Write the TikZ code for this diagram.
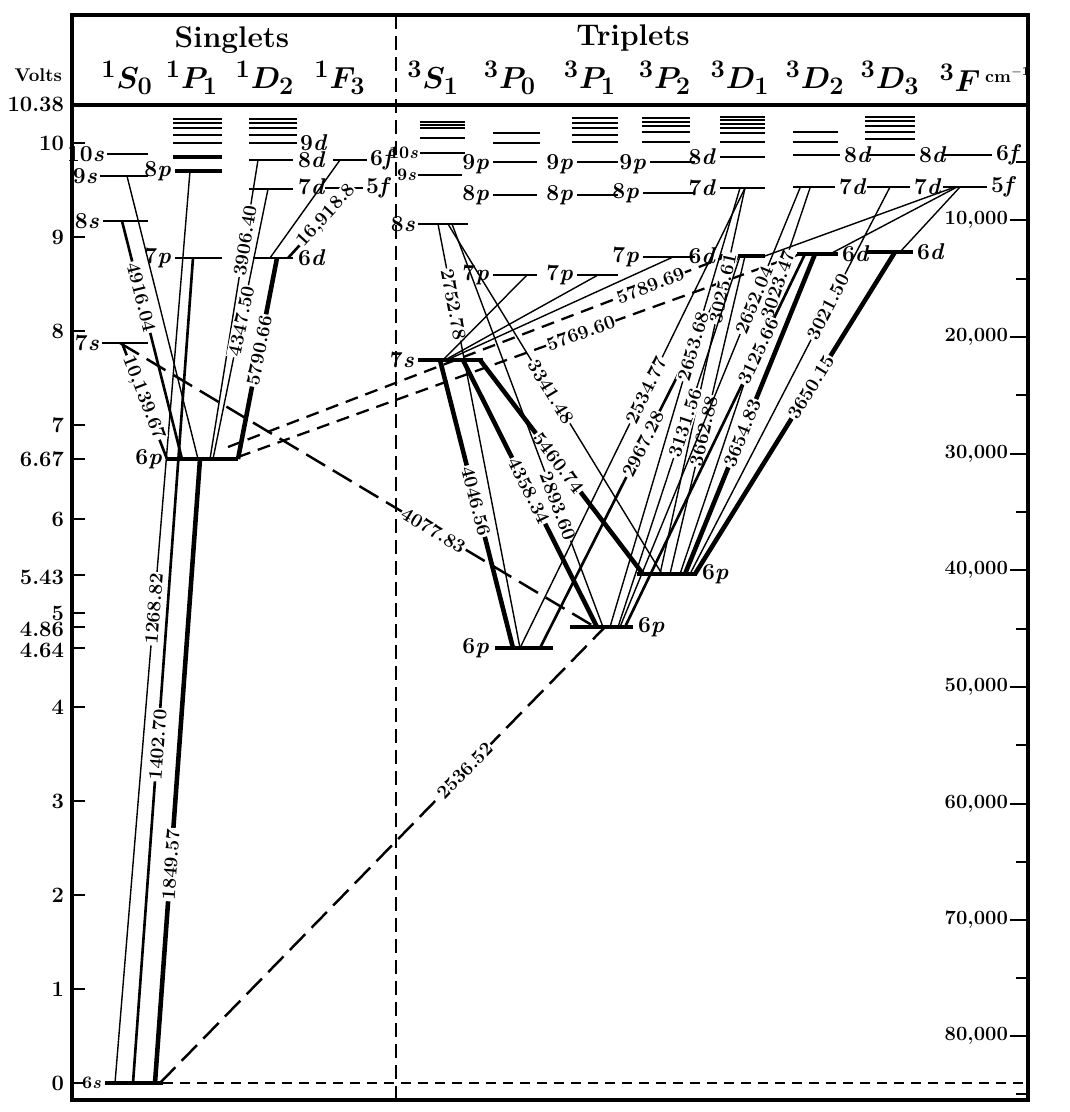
\documentclass[tikz,border=0pt]{standalone}
\usepackage{amsmath, amssymb}
\usepackage{bm}
\usepackage{tikz}
\usetikzlibrary{positioning}

\newcommand{\orb}[2]{#1\textit{#2}}

\begin{document}
\begin{tikzpicture}[
      x=0.02cm, y=-0.02cm,
      frame_line/.style={line width=2.4pt},
      tick_line/.style={line width=1.4pt},
      divider/.style={line width=1.2pt, dash pattern=on 2.8mm off 1.4mm},
      level_line/.style={line width=1.3pt},
      level_thick/.style={line width=2.8pt},
      tr_thin/.style={line width=0.8pt},
      tr_med/.style={line width=1.5pt},
      tr_thick/.style={line width=2.6pt},
      tr_dash/.style={line width=1.3pt, dash pattern=on 2.6mm off 1.6mm},
      tr_long/.style={line width=1.4pt, dash pattern=on 4.4mm off 1.8mm},
      wl/.style={sloped, fill=white, inner sep=0.6pt, font=\fontsize{11}{11}\selectfont\bfseries},
      lvl_lbl/.style={inner sep=1pt, font=\fontsize{13}{13}\selectfont\bfseries},
      axis_lbl/.style={anchor=east, inner sep=1pt, font=\fontsize{12.5}{12.5}\selectfont\bfseries},
      head_lbl/.style={font=\fontsize{17}{17}\selectfont\bfseries},
      term/.style={font=\fontsize{19}{19}\selectfont\boldmath}
    ]
      \useasboundingbox (0,0) rectangle (1070,1112);

      % frame, header, divider
      \draw[frame_line] (72,15) rectangle (1028,1100);
      \draw[frame_line] (72,105) -- (1028,105);
      \draw[divider] (396,15) -- (396,1100);
      \node[head_lbl] (sing) at (232,40) {Singlets};
      \node[head_lbl] (trip) at (633,38) {Triplets};
      \node[term] (hS0) at (127,78) {${}^1S_0$};
      \node[term] (hP1) at (192,78) {${}^1P_1$};
      \node[term] (hD2) at (265,78) {${}^1D_2$};
      \node[term] (hF3) at (340,78) {${}^1F_3$};
      \node[term] (tS1) at (433,78) {${}^3S_1$};
      \node[term] (tP0) at (510,78) {${}^3P_0$};
      \node[term] (tP1) at (590,78) {${}^3P_1$};
      \node[term] (tP2) at (665,78) {${}^3P_2$};
      \node[term] (tD1) at (740,78) {${}^3D_1$};
      \node[term] (tD2) at (815,78) {${}^3D_2$};
      \node[term] (tD3) at (890,78) {${}^3D_3$};
      \node[term] (tF) at (960,78) {${}^3F$};
      \node[font=\fontsize{10}{10}\selectfont\bfseries] (cmu) at (1008,75) {cm$^{\mathbf{-1}}$};

      % volts axis
      \node[axis_lbl, font=\fontsize{10.5}{10.5}\selectfont\bfseries] (volts) at (64,75) {Volts};
      \node[axis_lbl] (v1038) at (66,104) {10.38};
      \foreach \v in {0,...,10} {
        \draw[tick_line] (72,{1083-94*\v}) -- (85,{1083-94*\v});
        \node[axis_lbl] (v\v) at (66,{1083-94*\v}) {\v};
      }
      \foreach \yy/\vv/\ly in {459/6.67/459, 575/5.43/577, 627/4.86/629, 648/4.64/650} {
        \draw[tick_line] (72,\yy) -- (85,\yy);
        \node[axis_lbl] (vx\yy) at (66,\ly) {\vv};
      }

      % wave number axis
      \foreach \c/\yy in {10/220, 20/337, 30/454, 40/570, 50/687, 60/804, 70/920, 80/1036} {
        \draw[tick_line] (1010,\yy) -- (1028,\yy);
        \node[axis_lbl, font=\fontsize{11.5}{11.5}\selectfont\bfseries] (k\c) at (1010,\yy) {\c,000};
      }
      \foreach \yy in {162,279,395,512,629,745,862,978,1094}
        \draw[tick_line] (1016,\yy) -- (1028,\yy);
      \draw[line width=1pt, dash pattern=on 2mm off 1.4mm] (163,1083) -- (1028,1083);

      % singlet levels
      \draw[level_thick] (105,1083) -- (163,1083);
      \draw[level_line] (102,343) -- (148,343);
      \draw[level_line] (103,221) -- (148,221);
      \draw[level_line] (100,176) -- (148,176);
      \draw[level_line] (107,154) -- (148,154);
      \node[lvl_lbl, anchor=east, font=\fontsize{10}{10}\selectfont\bfseries] (s6s) at (103,1083) {\orb{6}{s}};
      \node[lvl_lbl, anchor=east] (s7s) at (101,343) {\orb{7}{s}};
      \node[lvl_lbl, anchor=east] (s8s) at (101,221) {\orb{8}{s}};
      \node[lvl_lbl, anchor=east] (s9s) at (99,176) {\orb{9}{s}};
      \node[lvl_lbl, anchor=east] (s10s) at (106,154) {\orb{10}{s}};

      \draw[level_thick] (167,459) -- (238,459);
      \draw[level_line] (175,258) -- (222,258);
      \draw[level_thick] (175,171) -- (222,171);
      \draw[level_thick] (173,157) -- (222,157);
      \foreach \yy in {119,123,128,135,143}
        \draw[level_line] (173,\yy) -- (222,\yy);
      \node[lvl_lbl, anchor=east] (s6p) at (164,459) {\orb{6}{p}};
      \node[lvl_lbl, anchor=east] (s7p) at (173,258) {\orb{7}{p}};
      \node[lvl_lbl, anchor=east] (s8p) at (173,171) {\orb{8}{p}};

      \draw[level_line] (253,258) -- (293,258);
      \draw[level_line] (249,189) -- (293,189);
      \draw[level_line] (249,160) -- (293,160);
      \foreach \yy in {119,123,128,135,143}
        \draw[level_line] (249,\yy) -- (297,\yy);
      \node[lvl_lbl, anchor=west] (s7d) at (296,187) {\orb{7}{d}};
      \node[lvl_lbl, anchor=west] (s8d) at (296,160) {\orb{8}{d}};
      \node[lvl_lbl, anchor=west] (s9d) at (298,143) {\orb{9}{d}};

      \draw[level_line] (333,160) -- (367,160);
      \draw[level_line] (325,188) -- (363,188);
      \node[lvl_lbl, anchor=west] (s6f) at (368,160) {\orb{6}{f}};
      \node[lvl_lbl, anchor=west] (s5f) at (364,188) {\orb{5}{f}};

      % triplet levels
      \draw[level_thick] (418,360) -- (483,360);
      \draw[level_line] (418,224) -- (468,224);
      \draw[level_line] (418,175) -- (462,175);
      \draw[level_line] (420,153) -- (465,153);
      \foreach \yy in {122,125,128,138}
        \draw[level_line] (420,\yy) -- (465,\yy);
      \node[lvl_lbl, anchor=east] (t7s) at (416,360) {\orb{7}{s}};
      \node[lvl_lbl, anchor=east] (t8s) at (417,224) {\orb{8}{s}};
      \node[lvl_lbl, anchor=east, font=\fontsize{10}{10}\selectfont\bfseries] (t9s) at (418,175) {\orb{9}{s}};
      \node[lvl_lbl, anchor=east, font=\fontsize{10}{10}\selectfont\bfseries] (t10s) at (420,153) {\orb{10}{s}};

      \draw[level_thick] (495,648) -- (553,648);
      \draw[level_line] (493,275) -- (537,275);
      \draw[level_line] (493,195) -- (537,195);
      \draw[level_line] (493,162) -- (537,162);
      \foreach \yy in {133,143}
        \draw[level_line] (493,\yy) -- (540,\yy);
      \node[lvl_lbl, anchor=east] (a6p) at (491,648) {\orb{6}{p}};
      \node[lvl_lbl, anchor=east] (a7p) at (491,275) {\orb{7}{p}};
      \node[lvl_lbl, anchor=east] (a8p) at (491,195) {\orb{8}{p}};
      \node[lvl_lbl, anchor=east] (a9p) at (491,164) {\orb{9}{p}};

      \draw[level_thick] (570,627) -- (633,627);
      \draw[level_line] (577,275) -- (618,275);
      \draw[level_line] (577,195) -- (618,195);
      \draw[level_line] (577,162) -- (618,162);
      \foreach \yy in {118,123,128,135,142}
        \draw[level_line] (572,\yy) -- (618,\yy);
      \node[lvl_lbl, anchor=west] (b6p) at (636,627) {\orb{6}{p}};
      \node[lvl_lbl, anchor=east] (b7p) at (575,275) {\orb{7}{p}};
      \node[lvl_lbl, anchor=east] (b8p) at (575,195) {\orb{8}{p}};
      \node[lvl_lbl, anchor=east] (b9p) at (575,164) {\orb{9}{p}};

      \draw[level_thick] (637,574) -- (697,574);
      \draw[level_line] (643,257) -- (695,257);
      \draw[level_line] (643,193) -- (695,193);
      \draw[level_line] (650,162) -- (695,162);
      \foreach \yy in {118,122,126,132,142}
        \draw[level_line] (642,\yy) -- (690,\yy);
      \node[lvl_lbl, anchor=west] (c6p) at (700,574) {\orb{6}{p}};
      \node[lvl_lbl, anchor=east] (c7p) at (641,257) {\orb{7}{p}};
      \node[lvl_lbl, anchor=east] (c8p) at (641,193) {\orb{8}{p}};
      \node[lvl_lbl, anchor=east] (c9p) at (648,164) {\orb{9}{p}};

      \draw[level_thick] (720,256) -- (765,256);
      \draw[level_line] (720,188) -- (765,188);
      \draw[level_line] (720,157) -- (765,157);
      \foreach \yy in {117,120,124,128,133,142}
        \draw[level_line] (720,\yy) -- (765,\yy);
      \node[lvl_lbl, anchor=east] (d6d) at (718,256) {\orb{6}{d}};
      \node[lvl_lbl, anchor=east] (d7d) at (718,188) {\orb{7}{d}};
      \node[lvl_lbl, anchor=east] (d8d) at (718,157) {\orb{8}{d}};

      \draw[level_thick] (797,254) -- (838,254);
      \draw[level_line] (793,187) -- (835,187);
      \draw[level_line] (793,155) -- (840,155);
      \foreach \yy in {132,142}
        \draw[level_line] (793,\yy) -- (838,\yy);
      \node[lvl_lbl, anchor=west] (e6d) at (840,254) {\orb{6}{d}};
      \node[lvl_lbl, anchor=west] (e7d) at (837,187) {\orb{7}{d}};
      \node[lvl_lbl, anchor=west] (e8d) at (842,155) {\orb{8}{d}};

      \draw[level_thick] (867,252) -- (913,252);
      \draw[level_line] (867,187) -- (910,187);
      \draw[level_line] (868,155) -- (915,155);
      \foreach \yy in {117,121,126,132,139}
        \draw[level_line] (865,\yy) -- (915,\yy);
      \node[lvl_lbl, anchor=west] (g6d) at (915,252) {\orb{6}{d}};
      \node[lvl_lbl, anchor=west] (g7d) at (912,187) {\orb{7}{d}};
      \node[lvl_lbl, anchor=west] (g8d) at (917,155) {\orb{8}{d}};

      \draw[level_line] (943,187) -- (987,187);
      \draw[level_line] (943,155) -- (992,155);
      \node[lvl_lbl, anchor=west] (h5f) at (989,187) {\orb{5}{f}};
      \node[lvl_lbl, anchor=west] (h6f) at (994,155) {\orb{6}{f}};

      % singlet transitions
      \draw[tr_thin] (115,1083) -- (190,171) node[wl, pos=0.52] (w1268) {1268.82};
      \draw[tr_med] (133,1083) -- (193,258) node[wl, pos=0.41] (w1402) {1402.70};
      \draw[tr_thick] (155,1083) -- (200,459) node[wl, pos=0.35] (w1849) {1849.57};
      \draw[tr_med] (122,221) -- (182,459) node[wl, pos=0.32] (w4916) {4916.04};
      \draw[tr_thin] (127,176) -- (198,459);
      \draw[tr_med] (122,343) -- (167,459) node[wl, pos=0.47] (w10139) {10,139.67};
      \draw[tr_thin] (258,160) -- (210,459) node[wl, pos=0.27] (w3906) {3906.40};
      \draw[tr_thin] (268,189) -- (213,459) node[wl, pos=0.49] (w4347) {4347.50};
      \draw[tr_thick] (277,258) -- (238,459) node[wl, pos=0.46] (w5790) {5790.66};
      \draw[tr_thin] (340,160) -- (270,258);
      \draw[tr_med] (352,188) -- (288,258) node[wl, pos=0.40] (w16918) {16,918.8};
      \node[lvl_lbl, anchor=west] (s6d) at (296,258) {\orb{6}{d}};

      % intercombination lines
      \draw[tr_long] (120,343) -- (595,627) node[wl, pos=0.66] (w4077) {4077.83};
      \draw[tr_dash] (228,447) -- (725,257) node[wl, pos=0.85] (w5789) {5789.69};
      \draw[tr_dash] (238,457) -- (800,254) node[wl, pos=0.61] (w5769) {5769.60};
      \draw[tr_long] (160,1083) -- (605,627) node[wl, pos=0.685] (w2536) {2536.52};

      % triplet transitions
      \draw[tr_thick] (440,360) -- (513,648) node[wl, pos=0.49] (w4046) {4046.56};
      \draw[tr_thick] (463,360) -- (597,627) node[wl, pos=0.49] (w4358) {4358.34};
      \draw[tr_thick] (480,360) -- (643,574) node[wl, pos=0.48] (w5460) {5460.74};
      \draw[tr_thin] (438,224) -- (520,648) node[wl, pos=0.19] (w2752) {2752.78};
      \draw[tr_thin] (448,224) -- (662,574) node[wl, pos=0.48] (w3341) {3341.48};
      \draw[tr_thin] (452,224) -- (603,627) node[wl, pos=0.70] (w2893) {2893.60};
      \draw[tr_thin] (443,360) -- (527,275);
      \draw[tr_thin] (445,360) -- (598,275);
      \draw[tr_thin] (447,360) -- (673,257);
      \draw[tr_thin] (520,648) -- (745,188) node[wl, pos=0.56] (w2534) {2534.77};
      \draw[tr_med] (540,648) -- (738,256) node[wl, pos=0.52] (w2967) {2967.28};
      \draw[tr_thin] (610,627) -- (740,188) node[wl, pos=0.64] (w2653) {2653.68};
      \draw[tr_thin] (660,574) -- (745,188) node[wl, pos=0.74] (w3025) {3025.61};
      \draw[tr_thin] (618,627) -- (740,256) node[wl, pos=0.55] (w3131) {3131.56};
      \draw[tr_thin] (670,574) -- (745,256) node[wl, pos=0.45] (w3662) {3662.88};
      \draw[tr_thin] (620,627) -- (800,188) node[wl, pos=0.745] (w2652) {2652.04};
      \draw[tr_thin] (680,574) -- (810,188) node[wl, pos=0.75] (w3023) {3023.47};
      \draw[tr_med] (625,627) -- (805,254) node[wl, pos=0.74] (w3125) {3125.66};
      \draw[tr_thick] (685,574) -- (815,254) node[wl, pos=0.44] (w3654) {3654.83};
      \draw[tr_thin] (690,574) -- (890,187) node[wl, pos=0.69] (w3021) {3021.50};
      \draw[tr_thick] (695,574) -- (895,252) node[wl, pos=0.58] (w3650) {3650.15};
      \draw[tr_thin] (955,187) -- (765,256);
      \draw[tr_thin] (957,187) -- (830,254);
      \draw[tr_thin] (960,187) -- (900,252);
    \end{tikzpicture}
\end{document}
